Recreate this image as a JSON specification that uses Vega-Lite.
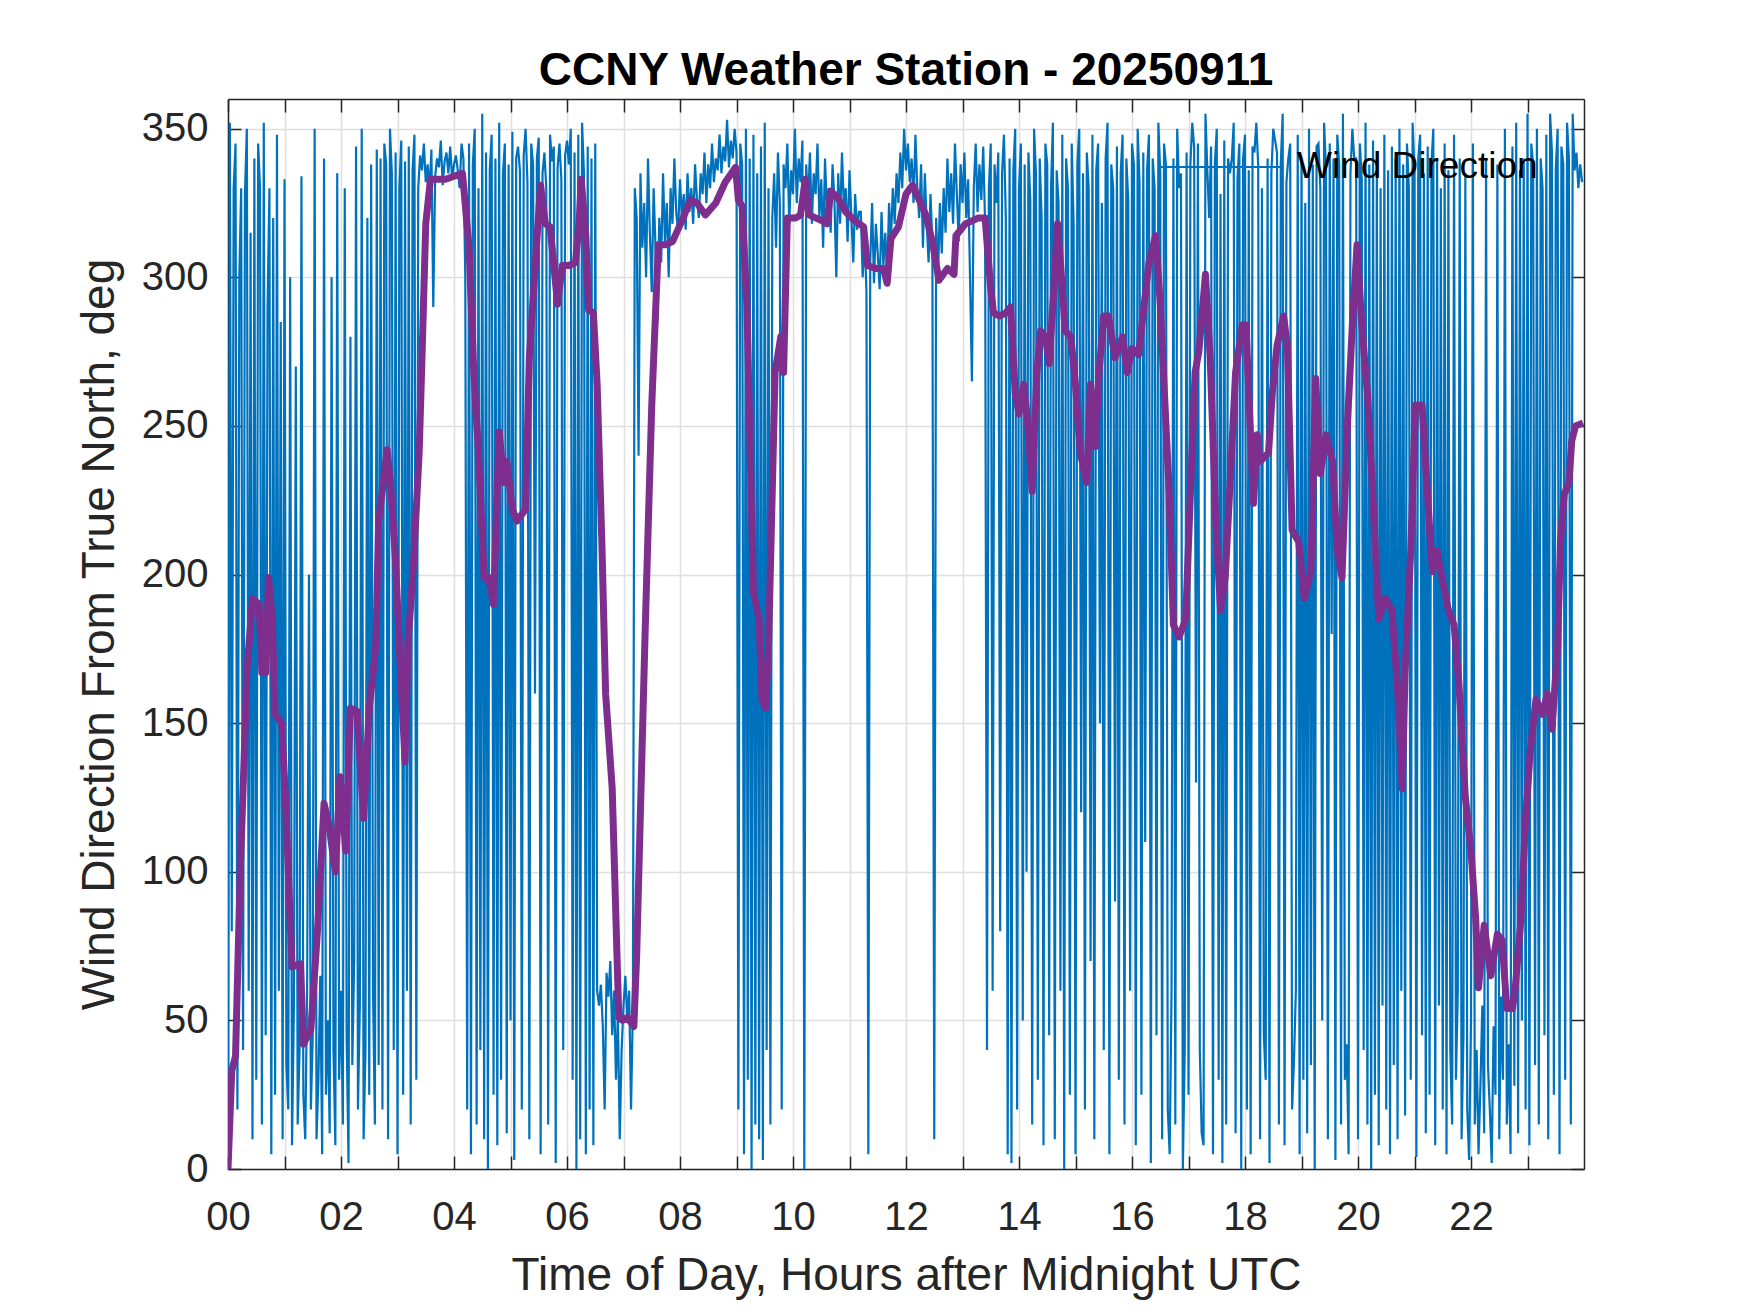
{
  "$schema": "https://vega.github.io/schema/vega-lite/v6.json",
  "autosize": "none",
  "width": 1356,
  "height": 1070,
  "padding": {"left": 228, "top": 99, "right": 166, "bottom": 144},
  "background": "white",
  "title": {
    "text": "CCNY Weather Station - 20250911",
    "font": "Liberation Sans",
    "fontSize": 46,
    "fontWeight": "bold",
    "color": "#000000",
    "anchor": "middle",
    "baseline": "alphabetic",
    "offset": -33
  },
  "datasets": {
    "wind": [
      {"m":0,"d":5},{"m":2,"d":352},{"m":4,"d":80},{"m":6,"d":330},{"m":8,"d":345},{"m":10,"d":20},{"m":12,"d":300},{"m":14,"d":330},{"m":16,"d":40},{"m":18,"d":328},
      {"m":20,"d":350},{"m":22,"d":60},{"m":24,"d":315},{"m":26,"d":10},{"m":28,"d":340},{"m":30,"d":30},{"m":32,"d":345},{"m":34,"d":330},{"m":36,"d":15},{"m":38,"d":352},
      {"m":40,"d":45},{"m":42,"d":290},{"m":44,"d":330},{"m":46,"d":5},{"m":48,"d":320},{"m":50,"d":25},{"m":52,"d":348},{"m":54,"d":60},{"m":56,"d":285},{"m":58,"d":10},
      {"m":60,"d":333},{"m":62,"d":35},{"m":64,"d":20},{"m":66,"d":300},{"m":68,"d":8},{"m":70,"d":55},{"m":72,"d":270},{"m":74,"d":15},{"m":76,"d":40},{"m":78,"d":334},
      {"m":80,"d":25},{"m":82,"d":10},{"m":84,"d":60},{"m":86,"d":200},{"m":88,"d":20},{"m":90,"d":45},{"m":92,"d":350},{"m":94,"d":10},{"m":96,"d":30},{"m":98,"d":65},
      {"m":100,"d":5},{"m":102,"d":340},{"m":104,"d":25},{"m":106,"d":50},{"m":108,"d":12},{"m":110,"d":300},{"m":112,"d":40},{"m":114,"d":8},{"m":116,"d":335},{"m":118,"d":30},
      {"m":120,"d":60},{"m":122,"d":15},{"m":124,"d":330},{"m":126,"d":45},{"m":128,"d":2},{"m":130,"d":280},{"m":132,"d":35},{"m":134,"d":70},{"m":136,"d":344},{"m":138,"d":20},
      {"m":140,"d":55},{"m":142,"d":350},{"m":144,"d":10},{"m":146,"d":40},{"m":148,"d":320},{"m":150,"d":25},{"m":152,"d":338},{"m":154,"d":60},{"m":156,"d":15},{"m":158,"d":343},
      {"m":160,"d":35},{"m":162,"d":340},{"m":164,"d":20},{"m":166,"d":345},{"m":168,"d":338},{"m":170,"d":10},{"m":172,"d":350},{"m":174,"d":335},{"m":176,"d":40},{"m":178,"d":342},
      {"m":180,"d":5},{"m":182,"d":330},{"m":184,"d":346},{"m":186,"d":25},{"m":188,"d":339},{"m":190,"d":60},{"m":192,"d":344},{"m":194,"d":15},{"m":196,"d":336},{"m":198,"d":348},
      {"m":200,"d":30},{"m":202,"d":330},{"m":204,"d":341},{"m":206,"d":336},{"m":208,"d":345},{"m":210,"d":332},{"m":212,"d":338},{"m":214,"d":329},{"m":216,"d":343},{"m":218,"d":290},
      {"m":220,"d":334},{"m":222,"d":340},{"m":224,"d":337},{"m":226,"d":346},{"m":228,"d":331},{"m":230,"d":339},{"m":232,"d":342},{"m":234,"d":335},{"m":236,"d":344},{"m":238,"d":333},
      {"m":240,"d":338},{"m":242,"d":341},{"m":244,"d":336},{"m":246,"d":330},{"m":248,"d":345},{"m":250,"d":340},{"m":252,"d":300},{"m":254,"d":20},{"m":256,"d":345},{"m":258,"d":5},
      {"m":260,"d":338},{"m":262,"d":350},{"m":264,"d":15},{"m":266,"d":330},{"m":268,"d":40},{"m":270,"d":355},{"m":272,"d":10},{"m":274,"d":342},{"m":276,"d":0},{"m":278,"d":336},
      {"m":280,"d":348},{"m":282,"d":25},{"m":284,"d":340},{"m":286,"d":8},{"m":288,"d":352},{"m":290,"d":30},{"m":292,"d":335},{"m":294,"d":345},{"m":296,"d":12},{"m":298,"d":338},
      {"m":300,"d":50},{"m":302,"d":349},{"m":304,"d":3},{"m":306,"d":340},{"m":308,"d":344},{"m":310,"d":336},{"m":312,"d":20},{"m":314,"d":341},{"m":316,"d":350},{"m":318,"d":332},
      {"m":320,"d":10},{"m":322,"d":345},{"m":324,"d":338},{"m":326,"d":160},{"m":328,"d":340},{"m":330,"d":347},{"m":332,"d":5},{"m":334,"d":335},{"m":336,"d":342},{"m":338,"d":330},
      {"m":340,"d":15},{"m":342,"d":348},{"m":344,"d":339},{"m":346,"d":344},{"m":348,"d":2},{"m":350,"d":337},{"m":352,"d":345},{"m":354,"d":333},{"m":356,"d":40},{"m":358,"d":341},
      {"m":360,"d":346},{"m":362,"d":338},{"m":364,"d":350},{"m":366,"d":30},{"m":368,"d":342},{"m":370,"d":0},{"m":372,"d":348},{"m":374,"d":10},{"m":376,"d":352},{"m":378,"d":335},
      {"m":380,"d":5},{"m":382,"d":344},{"m":384,"d":20},{"m":386,"d":340},{"m":388,"d":8},{"m":390,"d":345},{"m":392,"d":60},{"m":394,"d":55},{"m":396,"d":62},{"m":398,"d":48},
      {"m":400,"d":20},{"m":402,"d":66},{"m":404,"d":58},{"m":406,"d":70},{"m":408,"d":45},{"m":410,"d":60},{"m":412,"d":30},{"m":414,"d":52},{"m":416,"d":10},{"m":418,"d":40},
      {"m":420,"d":55},{"m":422,"d":65},{"m":424,"d":50},{"m":426,"d":60},{"m":428,"d":20},{"m":430,"d":55},{"m":432,"d":330},{"m":434,"d":320},{"m":436,"d":240},{"m":438,"d":335},
      {"m":440,"d":310},{"m":442,"d":325},{"m":444,"d":300},{"m":446,"d":340},{"m":448,"d":315},{"m":450,"d":295},{"m":452,"d":330},{"m":454,"d":310},{"m":456,"d":285},{"m":458,"d":320},
      {"m":460,"d":305},{"m":462,"d":335},{"m":464,"d":312},{"m":466,"d":325},{"m":468,"d":300},{"m":470,"d":330},{"m":472,"d":318},{"m":474,"d":340},{"m":476,"d":322},{"m":478,"d":315},
      {"m":480,"d":333},{"m":482,"d":320},{"m":484,"d":328},{"m":486,"d":316},{"m":488,"d":335},{"m":490,"d":322},{"m":492,"d":330},{"m":494,"d":318},{"m":496,"d":338},{"m":498,"d":326},
      {"m":500,"d":320},{"m":502,"d":335},{"m":504,"d":328},{"m":506,"d":342},{"m":508,"d":325},{"m":510,"d":338},{"m":512,"d":330},{"m":514,"d":345},{"m":516,"d":332},{"m":518,"d":340},
      {"m":520,"d":336},{"m":522,"d":348},{"m":524,"d":335},{"m":526,"d":344},{"m":528,"d":339},{"m":530,"d":353},{"m":532,"d":337},{"m":534,"d":346},{"m":536,"d":340},{"m":538,"d":350},
      {"m":540,"d":342},{"m":542,"d":20},{"m":544,"d":345},{"m":546,"d":338},{"m":548,"d":5},{"m":550,"d":350},{"m":552,"d":30},{"m":554,"d":340},{"m":556,"d":0},{"m":558,"d":348},
      {"m":560,"d":15},{"m":562,"d":335},{"m":564,"d":10},{"m":566,"d":344},{"m":568,"d":3},{"m":570,"d":352},{"m":572,"d":40},{"m":574,"d":330},{"m":576,"d":15},{"m":578,"d":320},
      {"m":580,"d":335},{"m":582,"d":310},{"m":584,"d":342},{"m":586,"d":325},{"m":588,"d":20},{"m":590,"d":338},{"m":592,"d":330},{"m":594,"d":345},{"m":596,"d":318},{"m":598,"d":336},
      {"m":600,"d":328},{"m":602,"d":350},{"m":604,"d":325},{"m":606,"d":340},{"m":608,"d":332},{"m":610,"d":346},{"m":612,"d":0},{"m":614,"d":338},{"m":616,"d":325},{"m":618,"d":342},
      {"m":620,"d":318},{"m":622,"d":335},{"m":624,"d":328},{"m":626,"d":345},{"m":628,"d":320},{"m":630,"d":333},{"m":632,"d":310},{"m":634,"d":340},{"m":636,"d":322},{"m":638,"d":330},
      {"m":640,"d":315},{"m":642,"d":338},{"m":644,"d":326},{"m":646,"d":300},{"m":648,"d":335},{"m":650,"d":318},{"m":652,"d":342},{"m":654,"d":324},{"m":656,"d":330},{"m":658,"d":312},
      {"m":660,"d":336},{"m":662,"d":320},{"m":664,"d":305},{"m":666,"d":328},{"m":668,"d":316},{"m":670,"d":322},{"m":672,"d":322},{"m":674,"d":300},{"m":676,"d":315},{"m":678,"d":295},
      {"m":680,"d":5},{"m":682,"d":305},{"m":684,"d":325},{"m":686,"d":298},{"m":688,"d":318},{"m":690,"d":308},{"m":692,"d":296},{"m":694,"d":322},{"m":696,"d":304},{"m":698,"d":315},
      {"m":700,"d":300},{"m":702,"d":325},{"m":704,"d":312},{"m":706,"d":330},{"m":708,"d":318},{"m":710,"d":335},{"m":712,"d":325},{"m":714,"d":342},{"m":716,"d":330},{"m":718,"d":350},
      {"m":720,"d":336},{"m":722,"d":345},{"m":724,"d":332},{"m":726,"d":340},{"m":728,"d":325},{"m":730,"d":348},{"m":732,"d":330},{"m":734,"d":320},{"m":736,"d":338},{"m":738,"d":310},
      {"m":740,"d":335},{"m":742,"d":318},{"m":744,"d":305},{"m":746,"d":328},{"m":748,"d":312},{"m":750,"d":10},{"m":752,"d":320},{"m":754,"d":300},{"m":756,"d":325},{"m":758,"d":308},
      {"m":760,"d":330},{"m":762,"d":315},{"m":764,"d":340},{"m":766,"d":322},{"m":768,"d":335},{"m":770,"d":318},{"m":772,"d":345},{"m":774,"d":328},{"m":776,"d":312},{"m":778,"d":338},
      {"m":780,"d":325},{"m":782,"d":342},{"m":784,"d":320},{"m":786,"d":333},{"m":788,"d":300},{"m":790,"d":265},{"m":792,"d":330},{"m":794,"d":345},{"m":796,"d":322},{"m":798,"d":338},
      {"m":800,"d":326},{"m":802,"d":344},{"m":804,"d":318},{"m":806,"d":40},{"m":808,"d":330},{"m":810,"d":345},{"m":812,"d":60},{"m":814,"d":338},{"m":816,"d":325},{"m":818,"d":342},
      {"m":820,"d":80},{"m":822,"d":335},{"m":824,"d":348},{"m":826,"d":320},{"m":828,"d":5},{"m":830,"d":340},{"m":832,"d":2},{"m":834,"d":336},{"m":836,"d":350},{"m":838,"d":20},
      {"m":840,"d":330},{"m":842,"d":345},{"m":844,"d":50},{"m":846,"d":338},{"m":848,"d":100},{"m":850,"d":342},{"m":852,"d":326},{"m":854,"d":15},{"m":856,"d":350},{"m":858,"d":335},
      {"m":860,"d":30},{"m":862,"d":340},{"m":864,"d":320},{"m":866,"d":8},{"m":868,"d":345},{"m":870,"d":338},{"m":872,"d":45},{"m":874,"d":330},{"m":876,"d":352},{"m":878,"d":10},
      {"m":880,"d":336},{"m":882,"d":325},{"m":884,"d":60},{"m":886,"d":348},{"m":888,"d":0},{"m":890,"d":340},{"m":892,"d":330},{"m":894,"d":25},{"m":896,"d":345},{"m":898,"d":318},
      {"m":900,"d":5},{"m":902,"d":338},{"m":904,"d":350},{"m":906,"d":120},{"m":908,"d":335},{"m":910,"d":20},{"m":912,"d":342},{"m":914,"d":330},{"m":916,"d":70},{"m":918,"d":348},
      {"m":920,"d":10},{"m":922,"d":336},{"m":924,"d":345},{"m":926,"d":150},{"m":928,"d":325},{"m":930,"d":40},{"m":932,"d":340},{"m":934,"d":352},{"m":936,"d":5},{"m":938,"d":338},
      {"m":940,"d":330},{"m":942,"d":90},{"m":944,"d":344},{"m":946,"d":30},{"m":948,"d":335},{"m":950,"d":348},{"m":952,"d":15},{"m":954,"d":340},{"m":956,"d":326},{"m":958,"d":60},
      {"m":960,"d":345},{"m":962,"d":338},{"m":964,"d":8},{"m":966,"d":350},{"m":968,"d":332},{"m":970,"d":25},{"m":972,"d":342},{"m":974,"d":110},{"m":976,"d":336},{"m":978,"d":348},
      {"m":980,"d":2},{"m":982,"d":340},{"m":984,"d":330},{"m":986,"d":45},{"m":988,"d":352},{"m":990,"d":335},{"m":992,"d":10},{"m":994,"d":345},{"m":996,"d":338},{"m":998,"d":20},
      {"m":1000,"d":5},{"m":1002,"d":60},{"m":1004,"d":340},{"m":1006,"d":15},{"m":1008,"d":350},{"m":1010,"d":330},{"m":1012,"d":335},{"m":1014,"d":0},{"m":1016,"d":40},{"m":1018,"d":342},
      {"m":1020,"d":25},{"m":1022,"d":338},{"m":1024,"d":352},{"m":1026,"d":344},{"m":1028,"d":130},{"m":1030,"d":345},{"m":1032,"d":40},{"m":1034,"d":12},{"m":1036,"d":8},{"m":1038,"d":355},
      {"m":1040,"d":336},{"m":1042,"d":320},{"m":1044,"d":344},{"m":1046,"d":5},{"m":1048,"d":338},{"m":1050,"d":350},{"m":1052,"d":30},{"m":1054,"d":328},{"m":1056,"d":2},{"m":1058,"d":346},
      {"m":1060,"d":15},{"m":1062,"d":340},{"m":1064,"d":335},{"m":1066,"d":340},{"m":1068,"d":352},{"m":1070,"d":12},{"m":1072,"d":333},{"m":1074,"d":345},{"m":1076,"d":0},{"m":1078,"d":340},
      {"m":1080,"d":348},{"m":1082,"d":20},{"m":1084,"d":336},{"m":1086,"d":5},{"m":1088,"d":344},{"m":1090,"d":342},{"m":1092,"d":352},{"m":1094,"d":338},{"m":1096,"d":10},{"m":1098,"d":330},
      {"m":1100,"d":45},{"m":1102,"d":30},{"m":1104,"d":340},{"m":1106,"d":2},{"m":1108,"d":335},{"m":1110,"d":350},{"m":1112,"d":346},{"m":1114,"d":342},{"m":1116,"d":15},{"m":1118,"d":338},
      {"m":1120,"d":355},{"m":1122,"d":8},{"m":1124,"d":332},{"m":1126,"d":340},{"m":1128,"d":345},{"m":1130,"d":20},{"m":1132,"d":36},{"m":1134,"d":60},{"m":1136,"d":348},{"m":1138,"d":5},
      {"m":1140,"d":340},{"m":1142,"d":30},{"m":1144,"d":325},{"m":1146,"d":12},{"m":1148,"d":350},{"m":1150,"d":35},{"m":1152,"d":338},{"m":1154,"d":0},{"m":1156,"d":344},{"m":1158,"d":345},
      {"m":1160,"d":330},{"m":1162,"d":50},{"m":1164,"d":352},{"m":1166,"d":336},{"m":1168,"d":10},{"m":1170,"d":345},{"m":1172,"d":180},{"m":1174,"d":340},{"m":1176,"d":3},{"m":1178,"d":348},
      {"m":1180,"d":338},{"m":1182,"d":15},{"m":1184,"d":355},{"m":1186,"d":30},{"m":1188,"d":42},{"m":1190,"d":5},{"m":1192,"d":335},{"m":1194,"d":350},{"m":1196,"d":340},{"m":1198,"d":340},
      {"m":1200,"d":10},{"m":1202,"d":345},{"m":1204,"d":333},{"m":1206,"d":40},{"m":1208,"d":352},{"m":1210,"d":15},{"m":1212,"d":338},{"m":1214,"d":0},{"m":1216,"d":346},{"m":1218,"d":25},
      {"m":1220,"d":340},{"m":1222,"d":8},{"m":1224,"d":330},{"m":1226,"d":55},{"m":1228,"d":348},{"m":1230,"d":20},{"m":1232,"d":336},{"m":1234,"d":5},{"m":1236,"d":344},{"m":1238,"d":35},
      {"m":1240,"d":340},{"m":1242,"d":10},{"m":1244,"d":350},{"m":1246,"d":60},{"m":1248,"d":338},{"m":1250,"d":18},{"m":1252,"d":345},{"m":1254,"d":330},{"m":1256,"d":30},{"m":1258,"d":352},
      {"m":1260,"d":336},{"m":1262,"d":4},{"m":1264,"d":340},{"m":1266,"d":348},{"m":1268,"d":45},{"m":1270,"d":335},{"m":1272,"d":12},{"m":1274,"d":344},{"m":1276,"d":25},{"m":1278,"d":338},
      {"m":1280,"d":350},{"m":1282,"d":8},{"m":1284,"d":340},{"m":1286,"d":55},{"m":1288,"d":330},{"m":1290,"d":20},{"m":1292,"d":345},{"m":1294,"d":5},{"m":1296,"d":336},{"m":1298,"d":40},
      {"m":1300,"d":15},{"m":1302,"d":348},{"m":1304,"d":30},{"m":1306,"d":60},{"m":1308,"d":340},{"m":1310,"d":10},{"m":1312,"d":45},{"m":1314,"d":335},{"m":1316,"d":20},{"m":1318,"d":3},
      {"m":1320,"d":50},{"m":1322,"d":345},{"m":1324,"d":15},{"m":1326,"d":40},{"m":1328,"d":5},{"m":1330,"d":28},{"m":1332,"d":55},{"m":1334,"d":12},{"m":1336,"d":340},{"m":1338,"d":35},
      {"m":1340,"d":20},{"m":1342,"d":2},{"m":1344,"d":48},{"m":1346,"d":25},{"m":1348,"d":338},{"m":1350,"d":10},{"m":1352,"d":58},{"m":1354,"d":30},{"m":1356,"d":350},{"m":1358,"d":15},
      {"m":1360,"d":42},{"m":1362,"d":5},{"m":1364,"d":344},{"m":1366,"d":28},{"m":1368,"d":352},{"m":1370,"d":12},{"m":1372,"d":336},{"m":1374,"d":50},{"m":1376,"d":340},{"m":1378,"d":20},
      {"m":1380,"d":355},{"m":1382,"d":8},{"m":1384,"d":345},{"m":1386,"d":338},{"m":1388,"d":35},{"m":1390,"d":350},{"m":1392,"d":15},{"m":1394,"d":340},{"m":1396,"d":330},{"m":1398,"d":45},
      {"m":1400,"d":348},{"m":1402,"d":10},{"m":1404,"d":355},{"m":1406,"d":342},{"m":1408,"d":25},{"m":1410,"d":336},{"m":1412,"d":350},{"m":1414,"d":5},{"m":1416,"d":344},{"m":1418,"d":338},
      {"m":1420,"d":30},{"m":1422,"d":352},{"m":1424,"d":340},{"m":1426,"d":15},{"m":1428,"d":355},{"m":1430,"d":336},{"m":1432,"d":342},{"m":1434,"d":330},{"m":1436,"d":338},{"m":1438,"d":332}
    ],
    "avg": [
      {"m":0,"d":0},{"m":4,"d":33},{"m":8,"d":38},{"m":13,"d":100},{"m":17,"d":137},{"m":20,"d":167},{"m":26,"d":192},{"m":33,"d":190},{"m":36,"d":167},{"m":40,"d":167},
      {"m":43,"d":199},{"m":47,"d":185},{"m":50,"d":153},{"m":57,"d":150},{"m":61,"d":125},{"m":68,"d":68},{"m":77,"d":69},{"m":80,"d":42},{"m":88,"d":47},{"m":95,"d":80},
      {"m":102,"d":123},{"m":107,"d":116},{"m":114,"d":100},{"m":119,"d":132},{"m":125,"d":107},{"m":130,"d":155},{"m":137,"d":154},{"m":144,"d":118},{"m":150,"d":155},{"m":157,"d":176},
      {"m":160,"d":218},{"m":169,"d":242},{"m":173,"d":229},{"m":178,"d":204},{"m":183,"d":169},{"m":188,"d":137},{"m":191,"d":176},{"m":197,"d":204},{"m":203,"d":241},{"m":206,"d":273},
      {"m":210,"d":318},{"m":215,"d":333},{"m":231,"d":333},{"m":249,"d":335},{"m":256,"d":310},{"m":261,"d":268},{"m":266,"d":241},{"m":272,"d":199},{"m":277,"d":199},{"m":282,"d":190},
      {"m":288,"d":248},{"m":293,"d":231},{"m":296,"d":238},{"m":302,"d":222},{"m":307,"d":218},{"m":316,"d":222},{"m":320,"d":273},{"m":327,"d":308},{"m":332,"d":331},{"m":337,"d":318},
      {"m":342,"d":317},{"m":350,"d":291},{"m":355,"d":304},{"m":362,"d":304},{"m":369,"d":305},{"m":373,"d":319},{"m":375,"d":333},{"m":380,"d":314},{"m":383,"d":289},{"m":388,"d":288},
      {"m":392,"d":264},{"m":397,"d":211},{"m":401,"d":160},{"m":408,"d":128},{"m":411,"d":95},{"m":415,"d":51},{"m":419,"d":50},{"m":424,"d":51},{"m":431,"d":48},{"m":434,"d":72},
      {"m":443,"d":181},{"m":450,"d":257},{"m":457,"d":311},{"m":465,"d":311},{"m":472,"d":312},{"m":482,"d":319},{"m":491,"d":326},{"m":498,"d":325},{"m":507,"d":321},{"m":518,"d":325},
      {"m":528,"d":332},{"m":539,"d":337},{"m":542,"d":326},{"m":546,"d":324},{"m":551,"d":291},{"m":558,"d":194},{"m":564,"d":185},{"m":567,"d":158},{"m":571,"d":155},{"m":574,"d":176},
      {"m":581,"d":268},{"m":587,"d":280},{"m":590,"d":268},{"m":594,"d":320},{"m":603,"d":320},{"m":608,"d":321},{"m":613,"d":333},{"m":617,"d":321},{"m":624,"d":320},{"m":631,"d":319},
      {"m":636,"d":318},{"m":640,"d":329},{"m":647,"d":327},{"m":656,"d":322},{"m":666,"d":319},{"m":675,"d":317},{"m":679,"d":304},{"m":688,"d":303},{"m":696,"d":303},{"m":700,"d":298},
      {"m":704,"d":313},{"m":712,"d":317},{"m":720,"d":328},{"m":727,"d":331},{"m":741,"d":321},{"m":748,"d":312},{"m":755,"d":299},{"m":764,"d":303},{"m":771,"d":301},{"m":773,"d":314},
      {"m":783,"d":318},{"m":797,"d":320},{"m":804,"d":320},{"m":810,"d":296},{"m":813,"d":288},{"m":819,"d":287},{"m":826,"d":288},{"m":831,"d":290},{"m":836,"d":261},{"m":840,"d":254},
      {"m":845,"d":264},{"m":849,"d":252},{"m":854,"d":228},{"m":859,"d":268},{"m":863,"d":282},{"m":868,"d":280},{"m":872,"d":271},{"m":877,"d":296},{"m":881,"d":318},{"m":886,"d":296},
      {"m":889,"d":282},{"m":895,"d":280},{"m":900,"d":264},{"m":905,"d":241},{"m":912,"d":231},{"m":916,"d":264},{"m":921,"d":243},{"m":925,"d":268},{"m":930,"d":287},{"m":935,"d":287},
      {"m":942,"d":273},{"m":950,"d":280},{"m":955,"d":268},{"m":960,"d":276},{"m":967,"d":274},{"m":973,"d":291},{"m":978,"d":305},{"m":985,"d":314},{"m":990,"d":291},{"m":994,"d":264},
      {"m":999,"d":231},{"m":1004,"d":183},{"m":1010,"d":179},{"m":1017,"d":185},{"m":1022,"d":227},{"m":1027,"d":268},{"m":1031,"d":275},{"m":1038,"d":301},{"m":1043,"d":273},{"m":1049,"d":218},
      {"m":1054,"d":188},{"m":1059,"d":199},{"m":1065,"d":236},{"m":1070,"d":268},{"m":1077,"d":284},{"m":1081,"d":284},{"m":1084,"d":261},{"m":1089,"d":224},{"m":1093,"d":247},{"m":1096,"d":238},
      {"m":1105,"d":241},{"m":1109,"d":261},{"m":1114,"d":277},{"m":1121,"d":287},{"m":1125,"d":277},{"m":1130,"d":215},{"m":1137,"d":211},{"m":1143,"d":192},{"m":1150,"d":201},{"m":1155,"d":266},
      {"m":1160,"d":234},{"m":1166,"d":247},{"m":1173,"d":238},{"m":1178,"d":208},{"m":1183,"d":199},{"m":1189,"d":252},{"m":1194,"d":284},{"m":1199,"d":311},{"m":1204,"d":284},{"m":1210,"d":261},
      {"m":1215,"d":231},{"m":1222,"d":185},{"m":1229,"d":192},{"m":1236,"d":188},{"m":1242,"d":162},{"m":1247,"d":128},{"m":1250,"d":167},{"m":1256,"d":208},{"m":1261,"d":257},{"m":1268,"d":257},
      {"m":1273,"d":231},{"m":1279,"d":201},{"m":1284,"d":208},{"m":1289,"d":199},{"m":1296,"d":188},{"m":1302,"d":183},{"m":1307,"d":164},{"m":1314,"d":125},{"m":1320,"d":107},{"m":1325,"d":84},
      {"m":1328,"d":61},{"m":1334,"d":82},{"m":1341,"d":65},{"m":1348,"d":79},{"m":1353,"d":77},{"m":1358,"d":54},{"m":1364,"d":54},{"m":1367,"d":61},{"m":1373,"d":84},{"m":1378,"d":118},
      {"m":1383,"d":141},{"m":1389,"d":158},{"m":1396,"d":153},{"m":1401,"d":160},{"m":1406,"d":148},{"m":1412,"d":176},{"m":1415,"d":211},{"m":1419,"d":227},{"m":1424,"d":231},{"m":1427,"d":245},
      {"m":1431,"d":250},{"m":1439,"d":251}
    ]
  },
  "layer": [
    {
      "data": {"name": "wind"},
      "mark": {"type": "line", "strokeWidth": 2.2, "clip": true},
      "encoding": {
        "x": {
          "field": "m",
          "type": "quantitative",
          "scale": {"domain": [0, 1440], "nice": false, "zero": false},
          "axis": {
            "orient": "bottom",
            "title": "Time of Day, Hours after Midnight UTC",
            "values": [0,60,120,180,240,300,360,420,480,540,600,660,720,780,840,900,960,1020,1080,1140,1200,1260,1320,1380],
            "labelExpr": "datum.value % 120 == 0 ? (datum.value < 600 ? '0' + datum.value / 60 : '' + datum.value / 60) : ''",
            "labelFlush": false,
            "labelPadding": 41,
            "titlePadding": 16
          }
        },
        "y": {
          "field": "d",
          "type": "quantitative",
          "scale": {"domain": [0, 360], "nice": false},
          "axis": {
            "orient": "left",
            "title": "Wind Direction From True North, deg",
            "values": [0,50,100,150,200,250,300,350],
            "labelFlush": false,
            "labelPadding": 33,
            "titlePadding": 18
          }
        },
        "color": {
          "datum": "Wind Direction",
          "scale": {"range": ["#0072BD"]},
          "legend": {
            "title": null,
            "orient": "none",
            "legendX": 930,
            "legendY": 5,
            "symbolType": "stroke",
            "symbolSize": 15376,
            "symbolStrokeWidth": 2,
            "labelFont": "Liberation Sans",
            "labelFontSize": 37,
            "labelColor": "#000000",
            "labelOffset": 13,
            "labelLimit": 600,
            "padding": 0
          }
        }
      }
    },
    {
      "data": {"name": "avg"},
      "mark": {"type": "line", "color": "#7E2F8E", "strokeWidth": 7, "strokeJoin": "round", "clip": true},
      "encoding": {
        "x": {
          "field": "m",
          "type": "quantitative",
          "axis": {
            "orient": "top",
            "title": null,
            "labels": false,
            "grid": false,
            "values": [0,60,120,180,240,300,360,420,480,540,600,660,720,780,840,900,960,1020,1080,1140,1200,1260,1320,1380]
          }
        },
        "y": {
          "field": "d",
          "type": "quantitative",
          "axis": {
            "orient": "right",
            "title": null,
            "labels": false,
            "grid": false,
            "values": [0,50,100,150,200,250,300,350]
          }
        }
      }
    }
  ],
  "resolve": {"axis": {"x": "independent", "y": "independent"}},
  "config": {
    "view": {"stroke": null},
    "axis": {
      "domainColor": "#262626",
      "domainWidth": 1.5,
      "tickColor": "#262626",
      "tickWidth": 1.5,
      "tickSize": -13,
      "grid": true,
      "gridColor": "#dfdfdf",
      "gridWidth": 1.5,
      "labelFont": "Liberation Sans",
      "labelFontSize": 40,
      "labelColor": "#262626",
      "titleFont": "Liberation Sans",
      "titleFontSize": 46,
      "titleFontWeight": "normal",
      "titleColor": "#262626"
    }
  }
}
